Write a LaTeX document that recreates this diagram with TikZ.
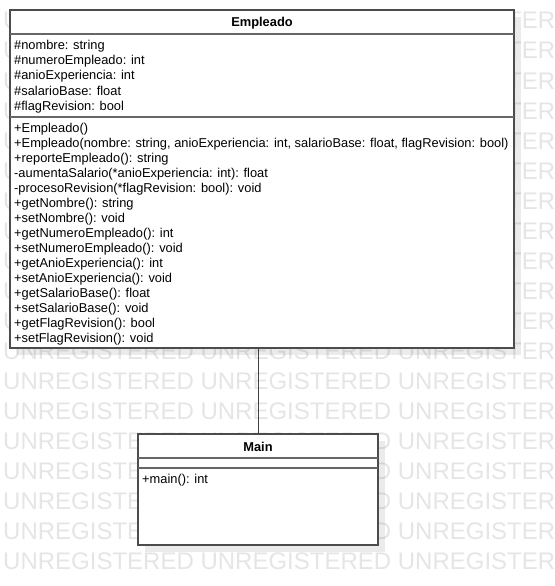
\documentclass[tikz,border=0pt]{standalone}
\usepackage{fontspec}
\setmainfont{Liberation Sans}
\usetikzlibrary{shadows}
\begin{document}
\begin{tikzpicture}[x=1pt,y=-1pt,
  wm/.style={anchor=base west,inner sep=0pt,text=black!10,font=\fontsize{24}{24}\selectfont},
  umlbox/.style={draw=black!70,line width=1.2pt,fill=white,inner sep=0pt,outer sep=0pt,anchor=north west,
    drop shadow={shadow xshift=7pt,shadow yshift=-7pt,opacity=0.08,fill=black}},
  sepline/.style={draw=black!60,line width=1.2pt},
  conn/.style={draw=black!75,line width=1pt},
  txt/.style={anchor=base west,inner sep=0pt,font=\fontsize{12.85}{13}\selectfont},
  ttl/.style={anchor=base,inner sep=0pt,font=\fontsize{12.85}{13}\selectfont\bfseries}]
\useasboundingbox (0,0) rectangle (554,586);
\begin{scope}
\clip (0,0) rectangle (554,586);
\foreach \k in {1,...,19}
  \node[wm] (wm\k) at (3,{30*\k-1}) {UNREGISTERED UNREGISTERED UNREGISTERED};
\end{scope}
% Empleado
\node[umlbox,minimum width=504pt,minimum height=338pt] (emp) at (10,10) {};
\draw[sepline] ([yshift=-24pt]emp.north west) -- ([yshift=-24pt]emp.north east);
\draw[sepline] ([yshift=-107pt]emp.north west) -- ([yshift=-107pt]emp.north east);
\node[ttl] (empT) at (262,27) {Empleado};
\node[txt] (a1) at (14,50) {\#nombre: string};
\node[txt] (a2) at (14,65) {\#numeroEmpleado: int};
\node[txt] (a3) at (14,80) {\#anioExperiencia: int};
\node[txt] (a4) at (14,95) {\#salarioBase: float};
\node[txt] (a5) at (14,110) {\#flagRevision: bool};
\node[txt] (m1) at (14,132) {+Empleado()};
\node[txt] (m2) at (14,147) {+Empleado(nombre: string, anioExperiencia: int, salarioBase: float, flagRevision: bool)};
\node[txt] (m3) at (14,162) {+reporteEmpleado(): string};
\node[txt] (m4) at (14,177) {-aumentaSalario(*anioExperiencia: int): float};
\node[txt] (m5) at (14,192) {-procesoRevision(*flagRevision: bool): void};
\node[txt] (m6) at (14,207) {+getNombre(): string};
\node[txt] (m7) at (14,222) {+setNombre(): void};
\node[txt] (m8) at (14,237) {+getNumeroEmpleado(): int};
\node[txt] (m9) at (14,252) {+setNumeroEmpleado(): void};
\node[txt] (m10) at (14,267) {+getAnioExperiencia(): int};
\node[txt] (m11) at (14,282) {+setAnioExperiencia(): void};
\node[txt] (m12) at (14,297) {+getSalarioBase(): float};
\node[txt] (m13) at (14,312) {+setSalarioBase(): void};
\node[txt] (m14) at (14,327) {+getFlagRevision(): bool};
\node[txt] (m15) at (14,342) {+setFlagRevision(): void};
% Main
\node[umlbox,minimum width=240pt,minimum height=111pt] (main) at (138,434) {};
\draw[sepline] ([yshift=-24pt]main.north west) -- ([yshift=-24pt]main.north east);
\draw[sepline] ([yshift=-34pt]main.north west) -- ([yshift=-34pt]main.north east);
\node[ttl] (mainT) at (258,451) {Main};
\node[txt] (mm1) at (142,483) {+main(): int};
% connector
\draw[conn] (main.north) -- (main.north |- emp.south);
\end{tikzpicture}
\end{document}
